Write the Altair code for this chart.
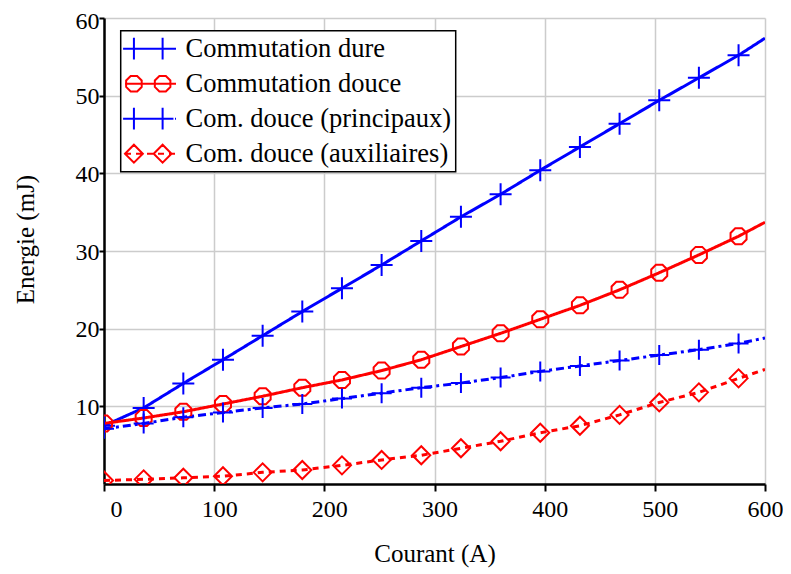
import altair as alt
import pandas as pd
import numpy as np

# ---------------- data ----------------
SERIES = ["Commutation dure", "Commutation douce",
          "Com. douce (principaux)", "Com. douce (auxiliaires)"]
COURANT = [0, 36, 72, 108, 144, 180, 216, 252, 288, 324, 360, 396, 432,
           468, 504, 540, 576, 600]
E_DURE = [7.5, 9.8, 12.95, 16.0, 19.1, 22.2, 25.2, 28.2, 31.3, 34.4, 37.3,
          40.4, 43.4, 46.4, 49.4, 52.3, 55.2, 57.4]
E_DOUCE = [7.8, 8.5, 9.3, 10.3, 11.3, 12.4, 13.4, 14.6, 16.0, 17.7, 19.4,
           21.2, 23.0, 25.0, 27.2, 29.5, 31.9, 33.7]
E_PRINC = [7.1, 7.8, 8.6, 9.2, 9.8, 10.3, 11.0, 11.7, 12.4, 13.0, 13.7,
           14.5, 15.2, 15.9, 16.6, 17.3, 18.1, 18.8]
E_AUX = [0.45, 0.6, 0.8, 1.0, 1.5, 1.8, 2.4, 3.1, 3.7, 4.6, 5.5, 6.6, 7.5,
         8.9, 10.5, 11.8, 13.6, 14.75]
LAST_MARKER = 576
X_TICKS = [0, 100, 200, 300, 400, 500, 600]
Y_TICKS = [10, 20, 30, 40, 50, 60]

rows = []
for name, vals in zip(SERIES, [E_DURE, E_DOUCE, E_PRINC, E_AUX]):
    for i_, e_ in zip(COURANT, vals):
        rows.append({"serie": name, "I": i_, "E": e_})
df = pd.DataFrame(rows)

# ---------------- styles ----------------
BLUE, RED = "#0000ff", "#ff0000"
COLORS = [BLUE, RED, BLUE, RED]
DASHES = [[1, 0], [1, 0], [8, 4, 3, 4], [6, 5]]
FONT = "Liberation Serif, Times New Roman, DejaVu Serif, serif"


def fmt(v):
    return f"{v:.3f}".rstrip("0").rstrip(".")


def octagon(cx, r):
    pts = []
    for k in range(8):
        a = np.pi / 8 + k * np.pi / 4
        pts.append((cx + r * np.cos(a), r * np.sin(a)))
    return "M" + "L".join(f"{fmt(px)},{fmt(py)}" for px, py in pts) + "Z"


def cross(cx, r):
    return f"M{fmt(cx - r)},0L{fmt(cx + r)},0M{fmt(cx)},{fmt(-r)}L{fmt(cx)},{fmt(r)}"


def diamond(cx, r):
    return (f"M{fmt(cx - r)},0L{fmt(cx)},{fmt(-r)}L{fmt(cx + r)},0"
            f"L{fmt(cx)},{fmt(r)}Z")


def dashed(x0, x1, pattern):
    out, x, k = [], x0, 0
    while x < x1:
        seg = pattern[k % len(pattern)]
        if k % 2 == 0:
            out.append(f"M{fmt(x)},0L{fmt(min(x + seg, x1))},0")
        x += seg
        k += 1
    return "".join(out)


# plot markers (unit square paths)
MARK_SHAPES = [cross(0, 1), octagon(0, 1), cross(0, 1), diamond(0, 1)]
MARK_SIZES = [484, 300, 400, 324]

# legend samples: line + two markers; unit = 12.75 px
U = 12.75
LX0, LX1 = -2.0, 2.0
M1, M2 = -1.3, 0.95
solid = f"M{LX0},0L{LX1},0"
dash_p = dashed(LX0, LX1, [8 / U, 4 / U, 3 / U, 4 / U])
dash_a = dashed(LX0, LX1, [6 / U, 5 / U])
LEG_PATHS = [
    solid + cross(M1, 0.85) + cross(M2, 0.85),
    solid + octagon(M1, 0.66) + octagon(M2, 0.66),
    dash_p + cross(M1, 0.85) + cross(M2, 0.85),
    dash_a + diamond(M1, 0.7) + diamond(M2, 0.7),
]

W, H = 661, 466

x_axis = alt.Axis(
    values=X_TICKS, title="Courant (A)", grid=True, gridColor="#cccccc",
    gridWidth=1.5, domainColor="black", domainWidth=2.5, tickColor="black",
    tickWidth=2, tickSize=7, labelFont=FONT, labelFontSize=24,
    labelColor="black", labelPadding=6, labelFlush=False, labelOverlap=False,
    labelOffset={"condition": [{"test": "datum.value === 0", "value": 12},
                               {"test": "datum.value === 600", "value": 0}],
                 "value": 5},
    titleFont=FONT, titleFontSize=25, titleFontWeight="normal",
    titleColor="black", titleX=W / 2, titleY=69, titleBaseline="middle",
    titleAlign="center")
y_axis = alt.Axis(
    values=Y_TICKS, title="Energie (mJ)", grid=True, gridColor="#cccccc",
    gridWidth=1.5, domainColor="black", domainWidth=2.5, tickColor="black",
    tickWidth=2, tickSize=5, labelFont=FONT, labelFontSize=24,
    labelColor="black", labelPadding=0, labelFlush=False, labelOverlap=False,
    labelOffset={"condition": {"test": "datum.value === 60", "value": 3},
                 "value": 1},
    labelBaseline="middle",
    titleFont=FONT, titleFontSize=25, titleFontWeight="normal",
    titleColor="black", titleX=-70.5, titleY=221, titleAngle=270,
    titleBaseline="alphabetic", titleAlign="center")

X = alt.X("I:Q", scale=alt.Scale(domain=[0, 600], nice=False, zero=False),
          axis=x_axis)
Y = alt.Y("E:Q", scale=alt.Scale(domain=[0, 60], nice=False, zero=False),
          axis=y_axis)

base = alt.Chart(df)
layers = []
for name, c, d in zip(SERIES, COLORS, DASHES):
    layers.append(
        base.transform_filter(alt.datum.serie == name)
        .mark_line(color=c, strokeWidth=3, strokeDash=d, clip=True)
        .encode(x=X, y=Y))
for name, c, shp, sz in zip(SERIES, COLORS, MARK_SHAPES, MARK_SIZES):
    layers.append(
        base.transform_filter((alt.datum.serie == name) &
                              (alt.datum.I <= LAST_MARKER))
        .mark_point(shape=shp, size=sz, color=c, strokeWidth=2, filled=False,
                    opacity=1, clip=True)
        .encode(x=X, y=Y))

leg = alt.Legend(
    title=None, orient="none", legendX=16.7, legendY=12.7,
    direction="vertical", strokeColor="black", fillColor="white", padding=4,
    labelFont=FONT, labelFontSize=26.5, labelColor="black", labelLimit=1000,
    symbolSize=(2 * U) ** 2, symbolStrokeWidth=2, symbolOpacity=1,
    symbolOffset=11.8, labelOffset=21, rowPadding=6)

helper = (base.transform_filter(alt.datum.I == 0)
          .mark_point(opacity=0, filled=False, strokeWidth=2)
          .encode(x=X, y=Y,
                  color=alt.Color("serie:N",
                                  scale=alt.Scale(domain=SERIES, range=COLORS),
                                  legend=leg),
                  shape=alt.Shape("serie:N",
                                  scale=alt.Scale(domain=SERIES,
                                                  range=LEG_PATHS),
                                  legend=leg)))
layers.append(helper)

chart = (alt.layer(*layers)
         .properties(width=W, height=H, autosize="none",
                     padding={"left": 96, "top": 10, "right": 18, "bottom": 85},
                     background="white")
         .configure_view(stroke=None)
         .configure_legend(strokeWidth=1.5))

chart.save("out.html", embed_options={"renderer": "svg", "actions": False})
